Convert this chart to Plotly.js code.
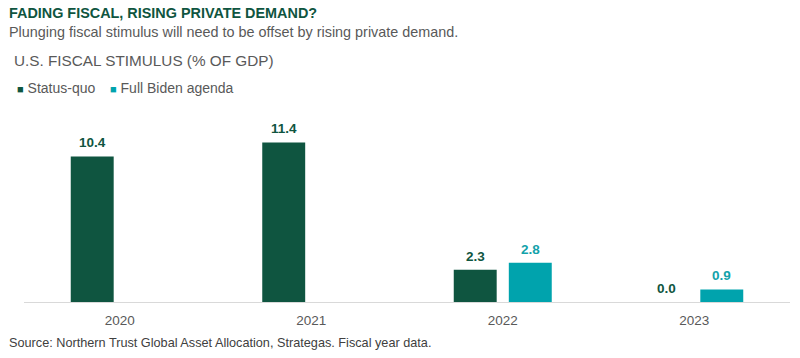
<!DOCTYPE html>
<html>
<head>
<meta charset="utf-8">
<script src="https://cdn.plot.ly/plotly-3.0.1.min.js"></script>
<style>
  html, body { margin: 0; padding: 0; background: #ffffff; }
  #chart { width: 800px; height: 358px; }
</style>
</head>
<body>
<div id="chart"></div>
<script>
const years = ["2020", "2021", "2022", "2023"];
const seriesNames = ["Status-quo", "Full Biden agenda"];
const statusQuo = [10.4, 11.4, 2.3, 0.0];
const bidenAgenda = [null, null, 2.8, 0.9];

const chartTitle = "FADING FISCAL, RISING PRIVATE DEMAND?";
const chartSubtitle = "Plunging fiscal stimulus will need to be offset by rising private demand.";
const panelTitle = "U.S. FISCAL STIMULUS (% OF GDP)";
const sourceNote = "Source: Northern Trust Global Asset Allocation, Strategas. Fiscal year data.";

const green = "#0f5540";
const teal = "#00a3ad";
const tealLabel = "#13a2aa";
const FONT = "Arial, 'Liberation Sans', sans-serif";

const plotL = 24, plotR = 10, plotT = 127, plotB = 56;
const plotW = 800 - plotL - plotR, plotH = 358 - plotT - plotB;
const bargap = 0.425, bargroupgap = 0.22;
const slotPx = (plotW / years.length) * (1 - bargap) / 2;

const traces = [
  { type: "bar", name: seriesNames[0], x: years, y: statusQuo,
    marker: { color: green }, hoverinfo: "skip" },
  { type: "bar", name: seriesNames[1], x: years, y: bidenAgenda,
    marker: { color: teal }, hoverinfo: "skip" }
];

const annotations = [];
// value labels, tied to the data scales (x given as category index)
[[statusQuo, -1, green], [bidenAgenda, 1, tealLabel]].forEach(([vals, side, col]) => {
  vals.forEach((v, i) => {
    if (v === null) return;
    annotations.push({
      xref: "x", yref: "y", x: i, y: v,
      xanchor: "center", yanchor: "bottom",
      xshift: side * slotPx / 2, yshift: 5,
      text: "<b>" + v.toFixed(1) + "</b>", showarrow: false, borderpad: 0,
      font: { family: FONT, size: 13.5, color: col }
    });
  });
});

// header / legend / footer texts placed by pixel position
function px(x) { return (x - plotL) / plotW; }
function py(y) { return (plotT + plotH - y) / plotH; }
const headerItems = [
  ["<b>" + chartTitle + "</b>", 14.4, green, 8, 13],
  [chartSubtitle, 14.4, "#595959", 8, 32],
  [panelTitle, 15.3, "#595959", 13, 61],
  ["<span style='color:" + green + ";font-size:11px'>■</span> " + seriesNames[0], 14, "#595959", 16, 88],
  ["<span style='color:" + teal + ";font-size:11px'>■</span> " + seriesNames[1], 14, "#595959", 109, 88],
  [sourceNote, 12.7, "#404040", 8, 343]
];
headerItems.forEach(([text, size, color, x, y]) => {
  annotations.push({
    xref: "paper", yref: "paper", x: px(x), y: py(y),
    xanchor: "left", yanchor: "middle", showarrow: false, borderpad: 0,
    text: text, font: { family: FONT, size: size, color: color }
  });
});

const layout = {
  width: 800, height: 358,
  paper_bgcolor: "#ffffff", plot_bgcolor: "#ffffff",
  margin: { l: plotL, r: plotR, t: plotT, b: plotB },
  showlegend: false,
  barmode: "group",
  bargap: bargap,
  bargroupgap: bargroupgap,
  font: { family: FONT, color: "#595959" },
  xaxis: {
    type: "category",
    range: [-0.5, years.length - 0.5],
    showline: true, linecolor: "#d9d9d9", linewidth: 1,
    ticks: "", showgrid: false, zeroline: false,
    tickfont: { family: FONT, size: 13.5, color: "#595959" },
    ticklabelstandoff: 6,
    fixedrange: true
  },
  yaxis: {
    range: [0, 12.5], visible: false, showgrid: false, zeroline: false,
    fixedrange: true
  },
  annotations: annotations
};

Plotly.newPlot("chart", traces, layout, { displayModeBar: false, staticPlot: true });
</script>
</body>
</html>
